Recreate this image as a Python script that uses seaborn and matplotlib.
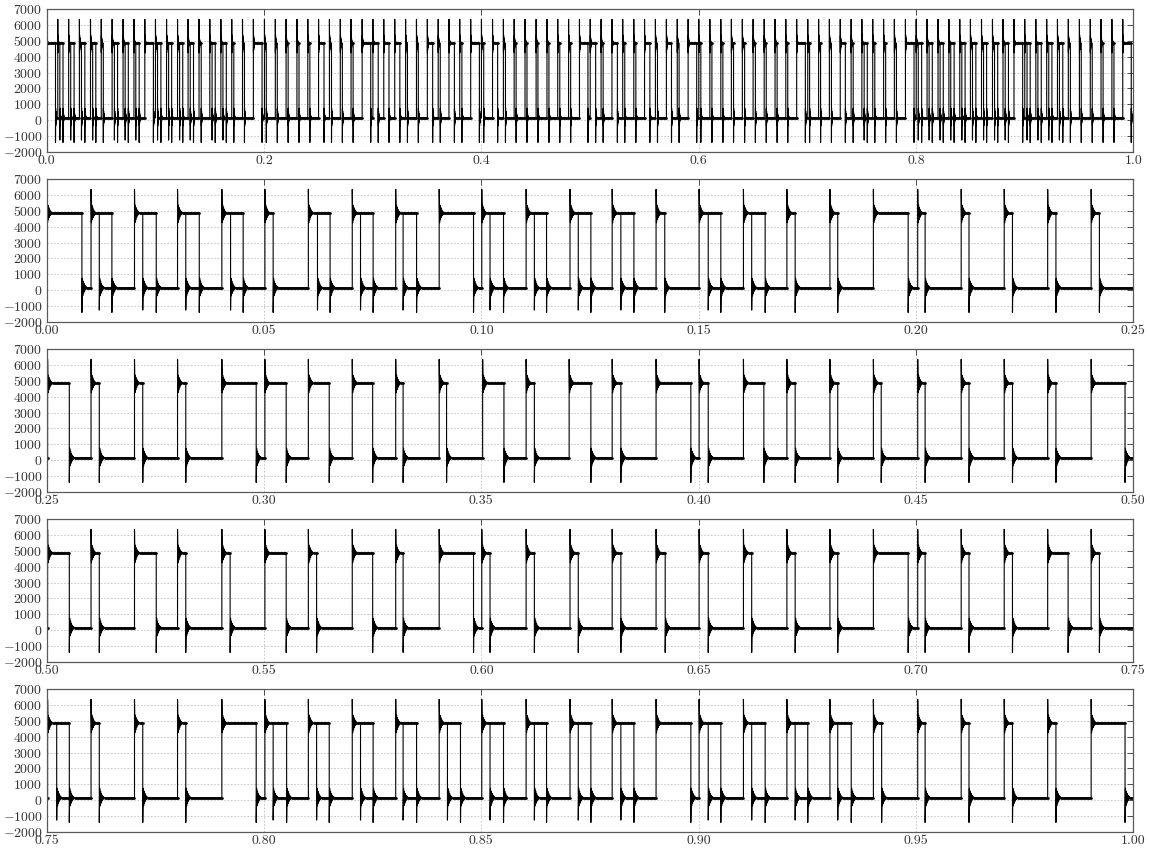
import numpy as np
import pandas as pd
import matplotlib
matplotlib.use("Agg")
import matplotlib.pyplot as plt
import seaborn as sns

# ---- data (seconds) ----
rise_times = [
    0.0001, 0.0102, 0.0202, 0.0301, 0.0403, 0.0502, 0.0602, 0.0703, 0.0803, 0.0903,
    0.1001, 0.1103, 0.1204, 0.1301, 0.1402, 0.1501, 0.1603, 0.1703, 0.1802, 0.1902,
    0.2004, 0.2104, 0.2203, 0.2303, 0.2403, 0.2502, 0.2602, 0.2702, 0.2801, 0.2903,
    0.3002, 0.3102, 0.3203, 0.3303, 0.3403, 0.3503, 0.3603, 0.3702, 0.3801, 0.3902,
    0.4001, 0.4103, 0.4203, 0.4302, 0.4402, 0.4504, 0.4604, 0.4703, 0.4803, 0.4903,
    0.5002, 0.5102, 0.5202, 0.5301, 0.5403, 0.5502, 0.5602, 0.5703, 0.5803, 0.5903,
    0.6001, 0.6103, 0.6204, 0.6301, 0.6402, 0.6501, 0.6603, 0.6703, 0.6802, 0.6902,
    0.7004, 0.7104, 0.7203, 0.7303, 0.7403, 0.7502, 0.7602, 0.7702, 0.7801, 0.7903,
    0.8002, 0.8102, 0.8203, 0.8303, 0.8403, 0.8501, 0.8603, 0.8704, 0.8801, 0.8902,
    0.9001, 0.9103, 0.9203, 0.9302, 0.9402, 0.9504, 0.9604, 0.9703, 0.9803, 0.9903,
]
fall_times = [
    0.0081, 0.0150, 0.0252, 0.0351, 0.0452, 0.0521, 0.0652, 0.0751, 0.0851, 0.0982,
    0.1051, 0.1150, 0.1252, 0.1351, 0.1422, 0.1551, 0.1653, 0.1722, 0.1820, 0.1982,
    0.2021, 0.2122, 0.2222, 0.2322, 0.2422, 0.2552, 0.2621, 0.2721, 0.2820, 0.2982,
    0.3051, 0.3150, 0.3250, 0.3320, 0.3420, 0.3552, 0.3622, 0.3752, 0.3821, 0.3982,
    0.4022, 0.4150, 0.4222, 0.4320, 0.4420, 0.4521, 0.4622, 0.4722, 0.4822, 0.4981,
    0.5052, 0.5121, 0.5252, 0.5320, 0.5422, 0.5551, 0.5621, 0.5750, 0.5820, 0.5982,
    0.6020, 0.6122, 0.6223, 0.6321, 0.6423, 0.6522, 0.6622, 0.6722, 0.6820, 0.6982,
    0.7021, 0.7122, 0.7222, 0.7350, 0.7422, 0.7552, 0.7621, 0.7721, 0.7820, 0.7982,
    0.8052, 0.8150, 0.8251, 0.8351, 0.8452, 0.8551, 0.8650, 0.8752, 0.8851, 0.8982,
    0.9051, 0.9153, 0.9251, 0.9351, 0.9421, 0.9521, 0.9622, 0.9722, 0.9822, 0.9981,
]
# overlaid short pulse inside a long one (None = no overlay)
split_times = [
    None, 0.0121, 0.0221, 0.0320, 0.0423, None, 0.0623, 0.0722, 0.0820, None,
    0.1020, 0.1122, 0.1223, 0.1321, None, 0.1522, 0.1622, None, None, None,
    None, None, None, None, None, None, None, None, None, None,
    None, None, None, None, None, None, None, None, None, None,
    None, None, None, None, None, None, None, None, None, None,
    None, None, None, None, None, None, None, None, None, None,
    None, None, None, None, None, None, None, None, None, None,
    None, None, None, None, None, 0.7523, None, None, None, None,
    0.8021, 0.8121, 0.8222, 0.8320, 0.8422, 0.8520, 0.8622, 0.8723, 0.8821, None,
    0.9022, 0.9122, 0.9222, 0.9320, None, None, None, None, None, None,
]
HIGH_LEVEL = 4850
LOW_LEVEL = 150
OVERSHOOT = 6350
UNDERSHOOT = -1400
SPLIT_UNDERSHOOT = -1250
ring_amplitudes = [600, 500, 420, 340, 270, 210, 160, 120, 90, 60, 40]
RING_STEP = 0.0001
T_END = 1.0

# ---- build traces ----
def edge(t, frm, to, extreme):
    pts = [(t, frm), (t, extreme)]
    sgn = -1 if extreme > to else 1
    for k, a in enumerate(ring_amplitudes):
        pts.append((t + (k + 1) * RING_STEP, to + sgn * a * (-1) ** k))
    pts.append((t + (len(ring_amplitudes) + 1) * RING_STEP, to))
    return pts

ring_len = (len(ring_amplitudes) + 1) * RING_STEP
edge_rows, flat_rows = [], []
unit = 0
main = [(0.0, LOW_LEVEL)]
for r, f in zip(rise_times, fall_times):
    main += edge(r, LOW_LEVEL, HIGH_LEVEL, OVERSHOOT)
    main += edge(f, HIGH_LEVEL, LOW_LEVEL, UNDERSHOOT)
main.append((T_END, LOW_LEVEL))
edge_rows += [(t, v, unit) for t, v in main]

for r, f, s in zip(rise_times, fall_times, split_times):
    if s is not None:
        unit += 1
        seg = edge(s, HIGH_LEVEL, LOW_LEVEL, SPLIT_UNDERSHOOT) + [(f, LOW_LEVEL)]
        edge_rows += [(t, v, unit) for t, v in seg]

edges_df = pd.DataFrame(edge_rows, columns=["t", "v", "unit"])

fu = 0
prev = 0.0
for r, f, s in zip(rise_times, fall_times, split_times):
    flat_rows += [(prev, LOW_LEVEL, fu), (r, LOW_LEVEL, fu)]; fu += 1
    flat_rows += [(r + ring_len, HIGH_LEVEL, fu), (f, HIGH_LEVEL, fu)]; fu += 1
    if s is not None:
        flat_rows += [(s + ring_len, LOW_LEVEL, fu), (f, LOW_LEVEL, fu)]; fu += 1
    prev = f + ring_len
flat_rows += [(prev, LOW_LEVEL, fu), (T_END, LOW_LEVEL, fu)]
flat_df = pd.DataFrame(flat_rows, columns=["t", "v", "unit"])

# ---- style ----
sns.set_theme(style="white")
plt.rcParams["font.family"] = ["cmr10"]
plt.rcParams["mathtext.fontset"] = "cm"
plt.rcParams["axes.formatter.use_mathtext"] = True

fig = plt.figure(figsize=(11.5, 8.5), dpi=100)
W, H = 1150, 850
left, right = 46.7, 1133.3
ranges = [(0.0, 1.0), (0.0, 0.25), (0.25, 0.5), (0.5, 0.75), (0.75, 1.0)]
yticks = list(range(-2000, 7001, 1000))

for i, (x0, x1) in enumerate(ranges):
    top = 9 + 170 * i
    ax = fig.add_axes([left / W, 1 - (top + 143) / H, (right - left) / W, 143 / H])
    sns.lineplot(data=flat_df, x="t", y="v", units="unit", estimator=None, sort=False,
                 color="black", lw=2.0, legend=False, ax=ax)
    sns.lineplot(data=edges_df, x="t", y="v", units="unit", estimator=None, sort=False,
                 color="black", lw=0.8, legend=False, ax=ax)
    ax.set_xlim(x0, x1)
    ax.set_ylim(-2000, 7000)
    ax.set_yticks(yticks)
    if i == 0:
        ax.set_xticks(np.round(np.arange(0, 1.01, 0.2), 2))
        ax.xaxis.set_major_formatter(matplotlib.ticker.FormatStrFormatter("%.1f"))
    else:
        ax.set_xticks(np.round(np.linspace(x0, x1, 6), 2))
        ax.xaxis.set_major_formatter(matplotlib.ticker.FormatStrFormatter("%.2f"))
    ax.set_xlabel("")
    ax.set_ylabel("")
    ax.grid(True, linestyle=(0, (2, 2)), color="0.75", lw=0.6)
    ax.tick_params(axis="y", direction="in", length=4, width=0.6, right=True,
                   labelsize=10, pad=3, colors="0.2")
    ax.tick_params(axis="x", direction="in", length=4, width=0.6, top=True,
                   labelsize=10, pad=2, colors="0.2")
    for sp in ax.spines.values():
        sp.set_color("0.35")
        sp.set_linewidth(0.9)

fig.savefig("out.png", dpi=100)
